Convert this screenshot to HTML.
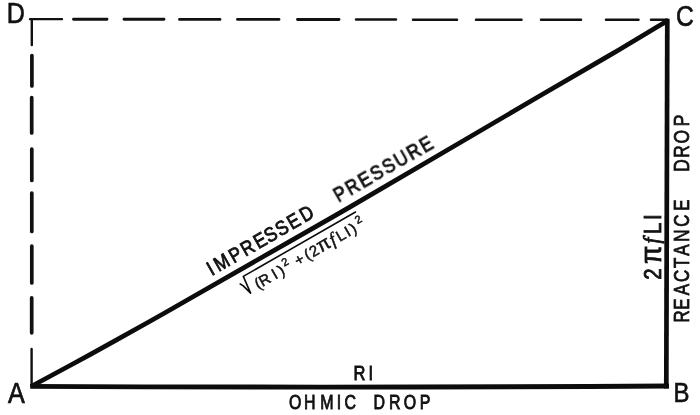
<!DOCTYPE html>
<html>
<head>
<meta charset="utf-8">
<title>Impedance triangle</title>
<style>
html,body{margin:0;padding:0;background:#fff;}
body{width:700px;height:415px;overflow:hidden;}
svg{display:block;}
text{font-family:"Liberation Sans",sans-serif;fill:#111;}
</style>
</head>
<body>
<svg width="700" height="415" viewBox="0 0 700 415">
<rect width="700" height="415" fill="#fff"/>
<!-- dashed top DC -->
<g stroke="#111" stroke-linecap="round" fill="none">
<path stroke-width="2.3" d="M30 19.2H62"/>
<path stroke-width="2.9" d="M73.5 19.3H107M124 19.3H164M179.5 19.4H220M237.5 19.4H279M297.5 19.5H339"/>
<path stroke-width="2.5" d="M356 19.6H396M413 19.7H457M476 19.7H521.5M541 19.8H581M606 19.8H638.5M651 19.7H667"/>
</g>
<!-- dashed left DA -->
<g stroke="#111" stroke-linecap="round" fill="none">
<path stroke-width="2.4" d="M31.8 19.5V45M31.6 349V386"/>
<path stroke-width="3.7" d="M31.9 55.5V86M31.7 97.5V133M31.8 149V180.5M31.8 193V231.5M31.8 246.2V283M31.7 297.8V332.8"/>
</g>
<!-- solid triangle -->
<g stroke="#0c0c0c" fill="none" stroke-linejoin="miter">
<path d="M30.2 386.3Q350 387.9 669 386" stroke-width="4.8"/>
<path d="M667.3 18.8L666.3 388.4" stroke-width="4.7"/>
<path d="M31 386.5C40.8 381.2 70.2 365.5 90 354.6C109.8 343.7 131.7 331.5 150 321.2C168.3 310.9 166.6 311.8 200 292.7C233.4 273.6 293.9 239.4 350.6 206.6C407.3 173.8 495.1 122.0 540 95.8C584.9 69.6 598.6 61.8 620 49.2C641.4 36.6 660.2 25.0 668.3 20.2" stroke-width="4.7"/>
<!-- radical sign and vinculum -->
<path d="M240.2 284L243 285.6L250.6 293.1L243.3 276.4L355.5 212" stroke-width="1.6" stroke-linejoin="round" stroke-linecap="round"/>
</g>
<g opacity="0.999">
<text transform="translate(6.8 23.3) scale(0.84 1)" font-size="29.8" letter-spacing="0" stroke="#111" stroke-width="0.7" >D</text>
<text transform="translate(675.9 26.1) scale(0.82 1)" font-size="30.2" letter-spacing="0" stroke="#111" stroke-width="0.7" >C</text>
<text transform="translate(7.9 403.3) scale(0.86 1)" font-size="29.3" letter-spacing="0" stroke="#111" stroke-width="0.7" >A</text>
<text transform="translate(673.5 402.4) scale(0.85 1)" font-size="28.2" letter-spacing="0" stroke="#111" stroke-width="0.7" >B</text>
<text transform="translate(353.6 380.2) scale(0.82 1)" font-size="20.1" letter-spacing="3.6" stroke="#111" stroke-width="0.9" >RI</text>
<text transform="translate(289 409.2) scale(0.76 1)" font-size="21.0" x="-0.01 19.65 41.06 63.0 73.01 88.17 111.1 131.43 150.98 172.08" stroke="#111" stroke-width="0.9">OHMIC DROP</text>
<text transform="translate(212.2 275.8) rotate(-29.85) scale(0.86 1)" font-size="20.3" x="-0.61 8.75 28.81 44.53 62.07 76.25 91.37 106.95 123.83" stroke="#111" stroke-width="0.85">IMPRESSED</text>
<text transform="translate(338.5 202.5) rotate(-29.85) scale(0.87 1)" font-size="20.3" letter-spacing="2.25" stroke="#111" stroke-width="0.85" >PRESSURE</text>
<text transform="translate(254.85 291.4) rotate(-30.2)" font-size="15.2" x="3.97 8.91 23.69 30.77 37.84 43.96 49.96 58.84 61.27 67.17 76.27 90.8 98.37 108.09 114.07 122.54" stroke="#111" stroke-width="0.5">(RI)<tspan font-size="11" dy="-6.4">2</tspan><tspan dy="6.4"> + (2</tspan><tspan font-size="19.5">π</tspan><tspan font-family="Liberation Serif,serif" font-style="italic" font-size="18">f</tspan>LI)<tspan font-size="11" dy="-6.4">2</tspan></text>
<text transform="translate(660.5 282) rotate(-90) scale(0.88 1)" font-size="23.2" x="2.53 20.33 43.83 54.57 70.36" stroke="#111" stroke-width="0.85">2<tspan font-size="30">π</tspan><tspan font-family="Liberation Serif,serif" font-style="italic" font-size="24" dy="-1.5">f</tspan><tspan dy="1.5">LI</tspan></text>
<text transform="translate(689.2 324) rotate(-90) scale(0.75 1)" font-size="22.6" x="1.84 19.13 38.46 56.17 74.76 91.13 109.84 129.84 151.13" stroke="#111" stroke-width="0.8">REACTANCE</text>
<text transform="translate(689.2 173) rotate(-90) scale(0.77 1)" font-size="22.6" x="1.58 19.76 38.29 60.64" stroke="#111" stroke-width="0.8">DROP</text>
</g>
</svg>
</body>
</html>
